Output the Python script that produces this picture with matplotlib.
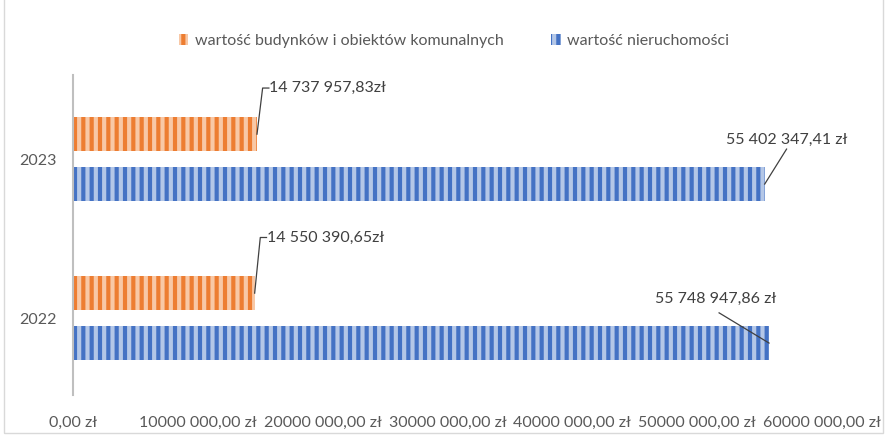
import matplotlib.pyplot as plt
from matplotlib.patches import Rectangle

years = ["2022", "2023"]
budynki = [14550390.65, 14737957.83]
nieruchomosci = [55748947.86, 55402347.41]
budynki_labels = ["14 550 390,65zł", "14 737 957,83zł"]
nieruch_labels = ["55 748 947,86 zł", "55 402 347,41 zł"]
xticks = [0, 10e6, 20e6, 30e6, 40e6, 50e6, 60e6]
xtick_labels = ["0,00 zł", "10000 000,00 zł", "20000 000,00 zł", "30000 000,00 zł",
                "40000 000,00 zł", "50000 000,00 zł", "60000 000,00 zł"]

plt.rcParams['font.family'] = ['Lato', 'DejaVu Sans']
plt.rcParams['hatch.linewidth'] = 3.0
txt = '#595959'
fs = 11.5
orange, orange_l = '#ED7D31', '#F8C8A6'
blue, blue_l = '#4472C4', '#B4C7E7'

fig = plt.figure(figsize=(8.87, 4.37), dpi=100)
ax = fig.add_axes([0.0823, 0.096, 0.8727, 0.732])

y = [0, 1]
off, h = 0.157, 0.214
ax.barh([v + off for v in y], budynki, height=h, color=orange, edgecolor=orange_l,
        hatch='||', linewidth=0, label='wartość budynków i obiektów komunalnych')
ax.barh([v - off for v in y], nieruchomosci, height=h, color=blue, edgecolor=blue_l,
        hatch='||', linewidth=0, label='wartość nieruchomości')

ax.set_xlim(0, 62e6)
ax.set_ylim(-0.484, 1.528)
ax.set_yticks(y)
ax.set_yticklabels(years, fontsize=fs, color=txt)
ax.set_xticks(xticks)
ax.set_xticklabels(xtick_labels, fontsize=fs, color=txt)
ax.tick_params(axis='both', length=0)
ax.tick_params(axis='y', pad=12)
ax.tick_params(axis='x', pad=15)
for s in ['top', 'right', 'bottom']:
    ax.spines[s].set_visible(False)
ax.spines['left'].set_color('#bfbfbf')
ax.spines['left'].set_linewidth(1.5)

# orange labels with elbow leader lines
for yi, val, lab in zip(y, budynki, budynki_labels):
    ty = yi + off + 0.29 if yi == 1 else yi + off + 0.35
    tx = val + 0.45e6
    ax.plot([val, tx, tx + 0.5e6], [yi + off, ty, ty], color='#404040', lw=0.9)
    ax.text(tx + 0.5e6, ty, lab, fontsize=fs, color='#404040', va='center', ha='left')

# blue labels
ax.plot([nieruchomosci[1], nieruchomosci[1] + 1.75e6], [1 - off, 1 - off + 0.22], color='#404040', lw=0.9)
ax.text(nieruchomosci[1] - 3.1e6, 1 - off + 0.28, nieruch_labels[1], fontsize=fs,
        color='#404040', va='center', ha='left')
ax.plot([nieruchomosci[0], nieruchomosci[0] - 4.0e6], [0 - off, 0 - off + 0.19], color='#404040', lw=0.9)
ax.text(nieruchomosci[0] - 9.1e6, 0 - off + 0.28, nieruch_labels[0], fontsize=fs,
        color='#404040', va='center', ha='left')

fig.legend(loc='center', bbox_to_anchor=(0.512, 0.906), ncol=2, frameon=False,
           fontsize=fs, labelcolor=txt, handlelength=0.6, handleheight=0.6,
           handletextpad=0.4, columnspacing=3.0)

fig.patches.append(Rectangle((0.005, 0.01), 0.99, 1.2, transform=fig.transFigure,
                             fill=False, edgecolor='#d9d9d9', lw=1))

fig.savefig('out.png', dpi=100)
